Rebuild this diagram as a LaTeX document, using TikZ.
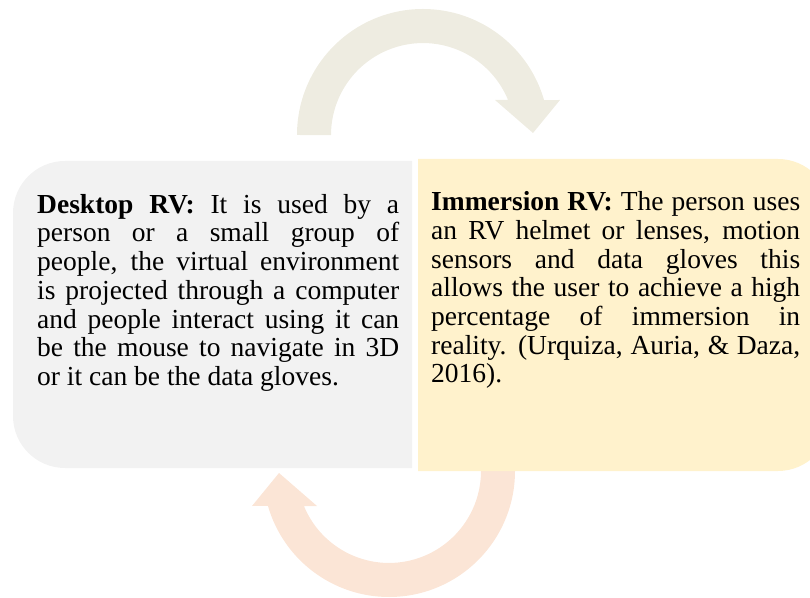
\documentclass[tikz,border=0pt]{standalone}
\usepackage{fontspec}
\setmainfont{Liberation Serif}
\definecolor{boxgray}{HTML}{F2F2F2}
\definecolor{boxyellow}{HTML}{FFF2CC}
\definecolor{arrowtop}{HTML}{EEECE1}
\definecolor{arrowbot}{HTML}{FBE5D6}
\begin{document}
\begin{tikzpicture}[x=1pt,y=1pt,
  txt/.style={inner sep=0pt, anchor=base west, align=justify,
    font=\fontsize{27.5}{28.7}\selectfont}]
\useasboundingbox (0,0) rectangle (810,597);
\begin{scope}
\clip (0,0) rectangle (810,597);
% top circular arrow
\fill[arrowtop] (297,462) arc[start angle=180,end angle=16.1,radius=126]
  -- (560,497) -- (533,464) -- (495,497) -- (508.06,497)
  arc[start angle=22.4,end angle=180,radius=92] -- cycle;
% bottom circular arrow
\fill[arrowbot] (515,126) arc[start angle=0,end angle=-163.9,radius=126]
  -- (252,91) -- (279,124) -- (317,91) -- (303.94,91)
  arc[start angle=202.4,end angle=360,radius=92] -- cycle;
% left box
\fill[boxgray] (412,436) -- (65,436) arc[start angle=90,end angle=180,radius=52]
  -- (13,181) arc[start angle=180,end angle=270,radius=52] -- (412,129) -- cycle;
% right box
\fill[boxyellow] (418,438) -- (778,438) arc[start angle=90,end angle=0,radius=52]
  -- (830,178) arc[start angle=0,end angle=-90,radius=52] -- (418,126) -- cycle;
\end{scope}
\node[txt, text width=362pt] (desk) at (37,383.7) {\tolerance=10000\hyphenpenalty=10000%
\textbf{Desktop RV:} It is used by a\linebreak
person or a small group of\linebreak
people, the virtual environment\linebreak
is projected through a computer\linebreak
and people interact using it can\linebreak
be the mouse to navigate in 3D\linebreak
or it can be the data gloves.};
\node[txt, text width=369pt] (imm) at (431,386.3) {\tolerance=10000\hyphenpenalty=10000%
\textbf{Immersion RV:} The person uses\linebreak
an RV helmet or lenses, motion\linebreak
sensors and data gloves this\linebreak
allows the user to achieve a high\linebreak
percentage of immersion in\linebreak
reality. (Urquiza, Auria, \& Daza,\linebreak
2016).};
\end{tikzpicture}
\end{document}
